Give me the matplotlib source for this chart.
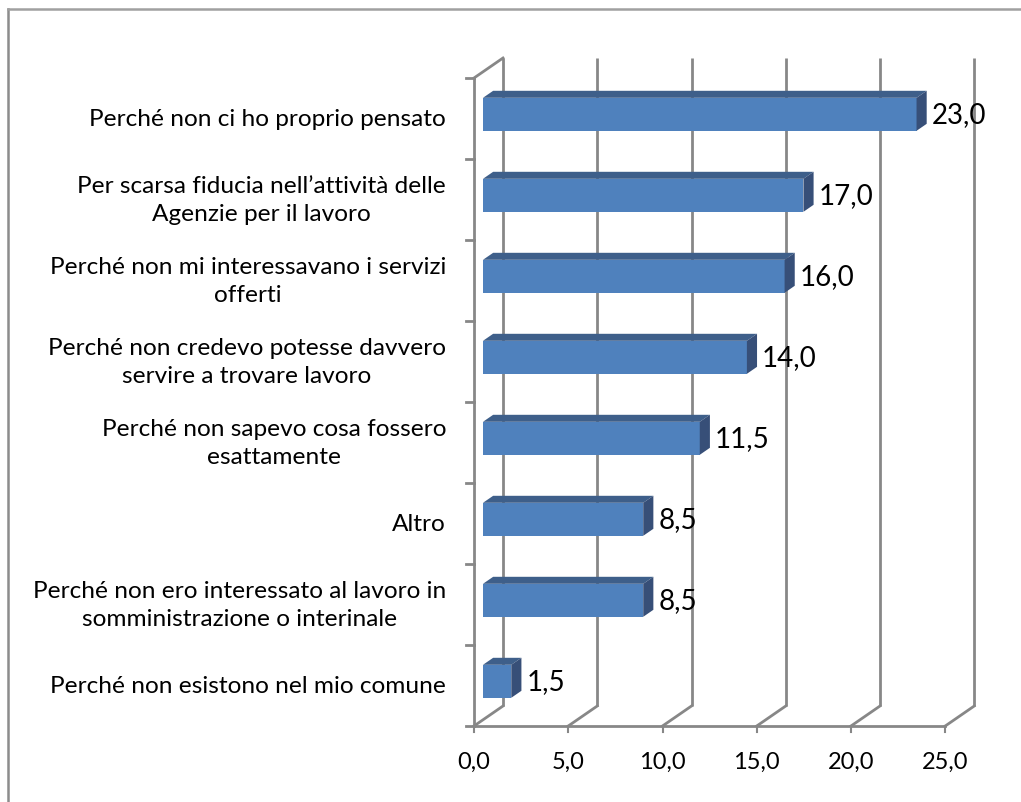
import numpy as np
import matplotlib
matplotlib.use('Agg')
import matplotlib.pyplot as plt
from matplotlib.patches import Polygon

# data, top row first
categories = [
  'Perché non ci ho proprio pensato',
  'Per scarsa fiducia nell\u2019attività delle\nAgenzie per il lavoro',
  'Perché non mi interessavano i servizi\nofferti',
  'Perché non credevo potesse davvero\nservire a trovare lavoro',
  'Perché non sapevo cosa fossero\nesattamente',
  'Altro',
  'Perché non ero interessato al lavoro in\nsomministrazione o interinale',
  'Perché non esistono nel mio comune',
]
values = [23.0, 17.0, 16.0, 14.0, 11.5, 8.5, 8.5, 1.5]
xticks = [0, 5, 10, 15, 20, 25]

plt.rcParams['font.family'] = ['Lato', 'DejaVu Sans']

W, H = 1021, 803
fig = plt.figure(figsize=(W/100, H/100), dpi=100)
ax = fig.add_axes([0, 0, 1, 1])

# pixel placement of the front axes corner and scale
x0px, y0px = 474, 727
sx = 18.85   # px per value unit
sy = 81.0    # px per category
ax.set_xlim((0 - x0px)/sx, (W - x0px)/sx)
ax.set_ylim((y0px - H)/sy, y0px/sy)
ax.axis('off')

# depth of the 3d box in data units
Dx, Dy = 29/sx, 20/sy
n = len(categories)
xmax = xticks[-1]

grid_c = '#878787'
lw = 2.0

# back wall gridlines and floor diagonals
for t in xticks:
  ax.plot([t + Dx, t + Dx], [Dy, n + Dy], color=grid_c, lw=lw, zorder=1, solid_capstyle='butt')
  ax.plot([t, t + Dx], [0, Dy], color=grid_c, lw=lw, zorder=1)
# left wall top edge
ax.plot([0, Dx], [n, n + Dy], color=grid_c, lw=lw, zorder=1)
# front axis lines
ax.plot([0, 0], [0, n], color=grid_c, lw=lw, zorder=1)
ax.plot([0, xmax], [0, 0], color=grid_c, lw=lw, zorder=1)
# tick marks
for i in range(n + 1):
  ax.plot([-8/sx, 0], [i, i], color=grid_c, lw=lw, zorder=1)
for t in xticks:
  ax.plot([t, t], [0, -6/sy], color=grid_c, lw=1.5, zorder=1)
  ax.text(t, -35/sy, '{:.1f}'.format(t).replace('.', ','), ha='center', va='center',
          fontsize=17)

# bars
f0, f1 = 0.31, 0.66
hw = 16.5/sy
d = f1 - f0
front_c, top_c, side_c = '#4F81BD', '#3E5F8A', '#374F78'
for i, (cat, v) in enumerate(zip(categories, values)):
  cy = n - 0.5 - i
  bc = cy + f0*Dy - 2/sy   # bar centre on its own depth plane
  xa = f0*Dx
  xb = xa + v
  yb = bc - hw
  yt = bc + hw
  ax.add_patch(Polygon([(xa, yb), (xb, yb), (xb, yt), (xa, yt)], closed=True,
                       facecolor=front_c, edgecolor='none', zorder=3))
  ax.add_patch(Polygon([(xa, yt), (xb, yt), (xb + d*Dx, yt + d*Dy), (xa + d*Dx, yt + d*Dy)],
                       closed=True, facecolor=top_c, edgecolor='none', zorder=3))
  ax.add_patch(Polygon([(xb, yb), (xb, yt), (xb + d*Dx, yt + d*Dy), (xb + d*Dx, yb + d*Dy)],
                       closed=True, facecolor=side_c, edgecolor='none', zorder=3))
  ax.text(xb + 15/sx, bc, '{:.1f}'.format(v).replace('.', ','), ha='left', va='center',
          fontsize=20, zorder=4)
  ax.text(-28/sx, cy, cat, ha='right', va='center', multialignment='center',
          fontsize=17.6, linespacing=1.38)

# outer frame (top and left edges)
ax.plot([(8 - x0px)/sx, (8 - x0px)/sx], [(y0px - H)/sy, (y0px - 10)/sy], color='#8c8c8c', lw=1.8,
        zorder=1, clip_on=False)
ax.plot([(8 - x0px)/sx, (W - x0px)/sx], [(y0px - 10)/sy, (y0px - 10)/sy], color='#a0a0a0', lw=1.8,
        zorder=1, clip_on=False)

fig.savefig('out.png', dpi=100)
